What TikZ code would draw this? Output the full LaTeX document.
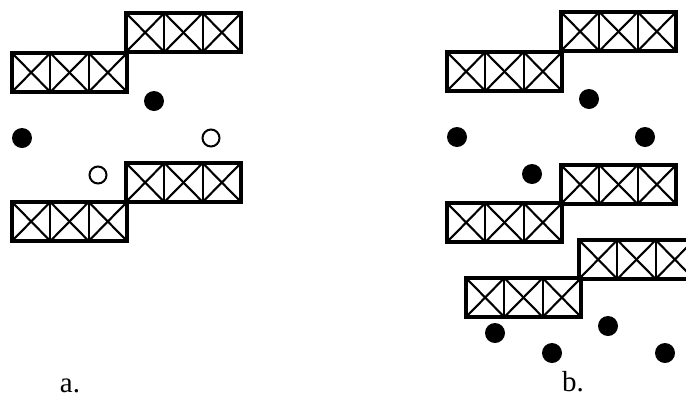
\documentclass[tikz,border=0pt]{standalone}
\usepackage{fontspec}
\setmainfont{Liberation Serif}
\tikzset{
  outerline/.style={line width=3.2pt, line join=miter},
  innerline/.style={line width=2.1pt},
  fulldot/.style={fill=black, draw=none},
  opendot/.style={draw=black, line width=2pt, fill=white},
  panellabel/.style={font=\fontsize{29}{31}\selectfont, inner sep=0pt, text depth=0pt},
  pics/cellrow/.style={code={
    \foreach \i in {0,1,2} {
      \draw[innerline] (38.33*\i,0) -- (38.33*\i+38.33,39);
      \draw[innerline] (38.33*\i,39) -- (38.33*\i+38.33,0);
    }
    \draw[innerline] (38.33,0) -- (38.33,39);
    \draw[innerline] (76.67,0) -- (76.67,39);
    \draw[outerline] (0,0) rectangle (115,39);
  }}
}
\begin{document}
\begin{tikzpicture}[x=1pt,y=-1pt]
\useasboundingbox (0,0) rectangle (686,400);
\begin{scope}
\clip (0,0) rectangle (686,400);
% panel a
\pic at (12,53) {cellrow};
\pic at (126,13) {cellrow};
\pic at (126,163) {cellrow};
\pic at (12,202) {cellrow};
\fill[fulldot] (154,101) circle (10);
\fill[fulldot] (22,138) circle (10);
\draw[opendot] (211,138) circle (8.5);
\draw[opendot] (98,175) circle (8.5);
% panel b
\pic at (447,52) {cellrow};
\pic at (561,12) {cellrow};
\pic at (561,165) {cellrow};
\pic at (447,203) {cellrow};
\pic at (579,240) {cellrow};
\pic at (466,278) {cellrow};
\fill[fulldot] (589,99) circle (10);
\fill[fulldot] (457,137) circle (10);
\fill[fulldot] (645,137) circle (10);
\fill[fulldot] (532,174) circle (10);
\fill[fulldot] (495,333) circle (10);
\fill[fulldot] (552,353) circle (10);
\fill[fulldot] (608,326) circle (10);
\fill[fulldot] (665,353) circle (10);
\end{scope}
\node[panellabel, anchor=base] (la) at (70,392) {a.};
\node[panellabel, anchor=base] (lb) at (573,391) {b.};
\end{tikzpicture}
\end{document}
